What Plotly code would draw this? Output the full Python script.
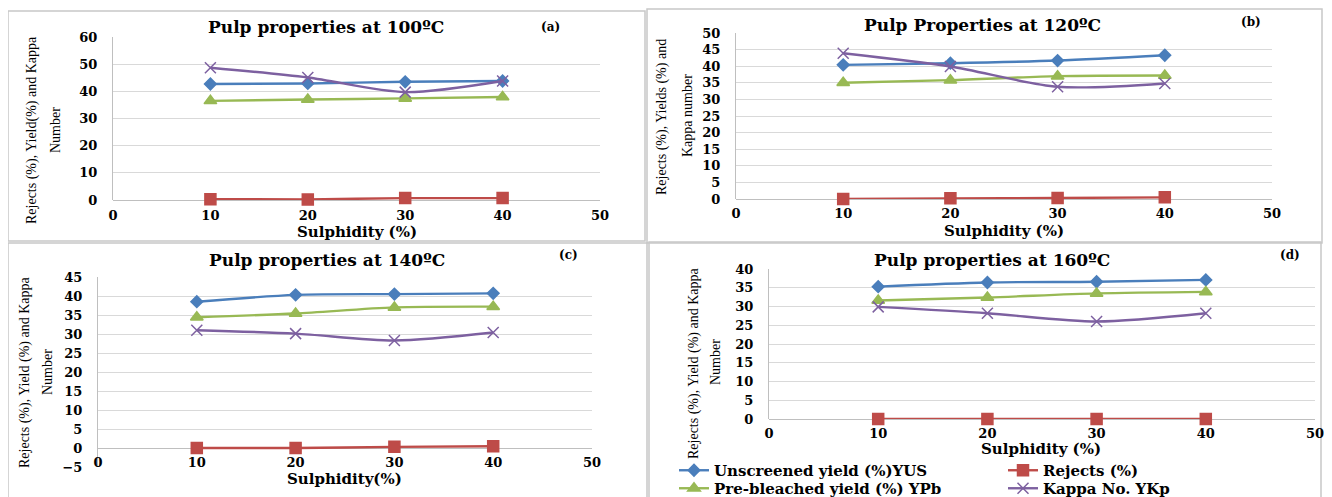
import plotly.graph_objects as go

# The page body has an 8px default margin, so the figure is drawn 8px
# smaller and every pixel position below is shifted by OFF.
W, H = 1332, 497
OFF = 8
FW, FH = W - OFF, H - OFF

# ---------------- data ----------------
sulphidity = [10, 20, 30, 40]

series_names = ["Unscreened yield (%)YUS", "Rejects (%)",
                "Pre-bleached yield (%) YPb", "Kappa No. YKp"]

# (a) 100 C
a_unscreened = [42.7, 42.9, 43.5, 43.8]
a_rejects = [0.3, 0.2, 0.7, 0.7]
a_prebleached = [36.5, 37.0, 37.4, 37.9]
a_kappa = [48.7, 45.1, 39.7, 43.8]

# (b) 120 C
b_unscreened = [40.4, 40.9, 41.7, 43.3]
b_rejects = [0.0, 0.2, 0.3, 0.5]
b_prebleached = [35.0, 35.8, 37.0, 37.2]
b_kappa = [43.9, 39.9, 33.8, 34.8]

# (c) 140 C
c_unscreened = [38.5, 40.3, 40.5, 40.7]
c_rejects = [0.0, 0.0, 0.3, 0.45]
c_prebleached = [34.4, 35.4, 37.0, 37.2]
c_kappa = [31.0, 30.1, 28.3, 30.4]

# (d) 160 C
d_unscreened = [35.3, 36.4, 36.6, 37.1]
d_rejects = [0.0, 0.0, 0.0, 0.0]
d_prebleached = [31.6, 32.4, 33.5, 33.9]
d_kappa = [29.9, 28.2, 26.0, 28.2]

panel_titles = ["Pulp properties at 100ºC", "Pulp Properties at 120ºC",
                "Pulp properties at 140ºC", "Pulp properties at 160ºC"]
panel_tags = ["(a)", "(b)", "(c)", "(d)"]
x_titles = ["Sulphidity (%)", "Sulphidity (%)", "Sulphidity(%)", "Sulphidity (%)"]
y_titles = [("Rejects (%), Yield(%) and Kappa", "Number"),
            ("Rejects (%), Yields (%) and", "Kappa number"),
            ("Rejects (%), Yield (%) and Kappa", "Number"),
            ("Rejects (%), Yield (%) and Kappa", "Number")]
y_ranges = [[0, 60], [0, 50], [-5, 45], [0, 40]]
y_dticks = [10, 5, 5, 5]

panels_data = [
    [a_unscreened, a_rejects, a_prebleached, a_kappa],
    [b_unscreened, b_rejects, b_prebleached, b_kappa],
    [c_unscreened, c_rejects, c_prebleached, c_kappa],
    [d_unscreened, d_rejects, d_prebleached, d_kappa],
]

# ---------------- styles / layout (pixels in the screenshot) ----------------
colors = ["#4A7EBB", "#BE4B48", "#98B954", "#7D60A0"]
symbols = ["diamond", "square", "triangle-up", "x-thin-open"]
msizes = [9, 11, 11, 11]
legend_ids = ["legend", "legend2", "legend3", "legend4"]
# legend item positions (left x, top y) in screenshot pixels
legend_pos = [(674, 454), (1003, 454), (674, 472), (1003, 472)]

plot_px = [(113, 600, 37, 200), (736, 1272, 33, 199),
           (98, 592, 277, 467), (769, 1315, 269, 419)]
xlabel_y = [215, 213, 462, 433]
title_pos = [(326, 27), (983, 25), (327, 260), (992, 260)]
tag_pos = [(550, 27), (1251, 22), (568, 255), (1290, 255)]
xtitle_pos = [(357, 232), (1004, 231), (344, 479), (1041, 449)]
ytitle_pos = [((32, 130), (55, 130)), ((662, 117), (687, 116)),
              ((25, 372), (47, 372)), ((694, 363), (715, 362))]
borders = [(8, 645, 11, 241), (647, 1322, 9, 243),
           (8, 647, 243, 499), (649, 1321, 242, 499)]


def px_x(p):
    return (p - OFF) / FW


def px_y(p):
    return 1 - (p - OFF) / FH


BOLD = "DejaVu Serif"
SERIF = "Liberation Serif"


def bfont(size):
    return dict(family=BOLD, size=size, color="#000000", weight="bold")


fig = go.Figure()
annotations = []
shapes = []
layout_axes = {}

for i in range(4):
    n = "" if i == 0 else str(i + 1)
    xa, ya = "x" + n, "y" + n
    for k in range(4):
        fig.add_trace(go.Scatter(
            x=sulphidity, y=panels_data[i][k], xaxis=xa, yaxis=ya,
            mode="lines+markers", name=series_names[k],
            showlegend=(i == 3), legend=legend_ids[k],
            line=dict(color=colors[k], width=2.4, shape="spline", smoothing=0.8),
            marker=dict(symbol=symbols[k], size=msizes[k], color=colors[k],
                        line=dict(color=colors[k], width=1.5)),
            cliponaxis=False,
        ))
    l, r, t, b = plot_px[i]
    layout_axes["xaxis" + n] = dict(
        domain=[px_x(l), px_x(r)], range=[0, 50], dtick=10, tick0=0,
        showgrid=False, zeroline=False, showline=False, ticks="",
        anchor="free", position=px_y(xlabel_y[i] - 9), automargin=False,
        tickfont=bfont(13),
    )
    layout_axes["yaxis" + n] = dict(
        domain=[px_y(b), px_y(t)], range=y_ranges[i], dtick=y_dticks[i],
        tick0=0, anchor=xa, showgrid=True, gridcolor="#D9D9D9", gridwidth=1,
        zeroline=True, zerolinecolor="#BFBFBF", zerolinewidth=1,
        showline=True, linecolor="#BFBFBF", linewidth=1, ticks="",
        ticklabelstandoff=12, automargin=False,
        tickfont=bfont(13),
    )
    annotations.append(dict(
        text=panel_titles[i], x=px_x(title_pos[i][0]), y=px_y(title_pos[i][1]),
        xref="paper", yref="paper", showarrow=False, xanchor="center", yanchor="middle",
        font=bfont(17)))
    annotations.append(dict(
        text=panel_tags[i], x=px_x(tag_pos[i][0]), y=px_y(tag_pos[i][1]),
        xref="paper", yref="paper", showarrow=False, xanchor="center", yanchor="middle",
        font=bfont(12)))
    annotations.append(dict(
        text=x_titles[i], x=px_x(xtitle_pos[i][0]), y=px_y(xtitle_pos[i][1]),
        xref="paper", yref="paper", showarrow=False, xanchor="center", yanchor="middle",
        font=bfont(15)))
    for j in range(2):
        px_, py_ = ytitle_pos[i][j]
        annotations.append(dict(
            text=y_titles[i][j], x=px_x(px_), y=px_y(py_), textangle=-90,
            xref="paper", yref="paper", showarrow=False, xanchor="center", yanchor="middle",
            font=dict(family=SERIF, size=14, color="#000000")))
    bl, br, bt, bb = borders[i]
    shapes.append(dict(type="rect", xref="paper", yref="paper",
                       x0=px_x(bl), x1=px_x(br), y0=px_y(bb), y1=px_y(bt),
                       line=dict(color="#C8C8C8", width=1.5), fillcolor="rgba(0,0,0,0)",
                       layer="below"))

legend_common = dict(orientation="v", xref="container", yref="container",
                     xanchor="left", yanchor="top", itemwidth=30,
                     bgcolor="rgba(0,0,0,0)", tracegroupgap=0,
                     font=bfont(15))
legends = {}
for k in range(4):
    lx, ly = legend_pos[k]
    legends[legend_ids[k]] = dict(x=px_x(lx), y=px_y(ly), **legend_common)

fig.update_layout(
    width=FW, height=FH, margin=dict(l=0, r=0, t=0, b=0, autoexpand=False),
    paper_bgcolor="white", plot_bgcolor="white",
    annotations=annotations, shapes=shapes,
    **legends,
    **layout_axes,
)

fig.write_html("out.html")
